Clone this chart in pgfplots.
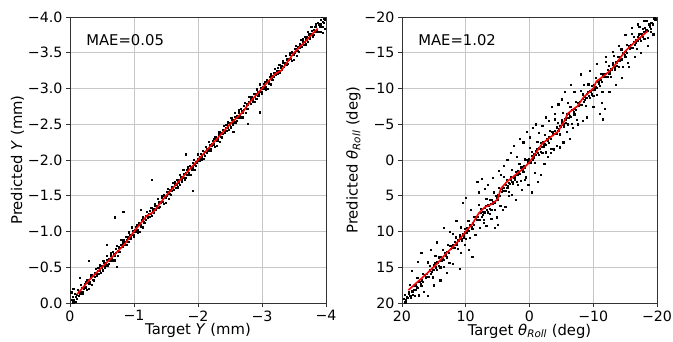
\documentclass[border=0pt]{standalone}
\usepackage{fontspec}
\setmainfont{DejaVu Sans}
\usepackage{pgfplots}
\usepackage{pgfplotstable}
\pgfplotsset{compat=1.18}

\pgfplotstableread{
x y
-0.02 0.01
-0.03 -0.05
-0.04 -0.09
-0.05 -0.01
-0.06 -0.05
-0.07 -0.13
-0.08 -0.02
-0.09 -0.09
-0.10 -0.12
-0.11 -0.06
-0.12 -0.19
-0.13 -0.16
-0.14 -0.10
-0.15 -0.13
-0.16 -0.16
-0.17 -0.26
-0.18 -0.21
-0.19 -0.13
-0.20 -0.15
-0.21 -0.22
-0.22 -0.20
-0.23 -0.27
-0.24 -0.30
-0.25 -0.22
-0.26 -0.19
-0.27 -0.32
-0.28 -0.29
-0.29 -0.20
-0.30 -0.27
-0.31 -0.30
-0.32 -0.36
-0.33 -0.40
-0.34 -0.26
-0.35 -0.33
-0.36 -0.38
-0.37 -0.32
-0.38 -0.37
-0.39 -0.42
-0.40 -0.48
-0.41 -0.41
-0.42 -0.39
-0.43 -0.45
-0.44 -0.49
-0.45 -0.41
-0.46 -0.45
-0.47 -0.53
-0.48 -0.42
-0.49 -0.49
-0.50 -0.52
-0.51 -0.46
-0.52 -0.59
-0.53 -0.56
-0.54 -0.50
-0.55 -0.53
-0.56 -0.56
-0.57 -0.66
-0.58 -0.61
-0.59 -0.53
-0.60 -0.55
-0.61 -0.62
-0.62 -0.60
-0.63 -0.67
-0.64 -0.70
-0.65 -0.62
-0.66 -0.59
-0.67 -0.72
-0.68 -0.69
-0.69 -0.60
-0.70 -0.67
-0.71 -0.70
-0.72 -0.76
-0.73 -0.80
-0.74 -0.66
-0.75 -0.73
-0.76 -0.78
-0.77 -0.72
-0.78 -0.77
-0.79 -0.82
-0.80 -0.88
-0.81 -0.81
-0.82 -0.79
-0.83 -0.85
-0.84 -0.89
-0.85 -0.81
-0.86 -0.85
-0.87 -0.93
-0.88 -0.82
-0.89 -0.89
-0.90 -0.92
-0.91 -0.86
-0.92 -0.99
-0.93 -0.96
-0.94 -0.90
-0.95 -0.93
-0.96 -0.96
-0.97 -1.06
-0.98 -1.01
-0.99 -0.93
-1.00 -0.95
-1.01 -1.02
-1.02 -1.00
-1.03 -1.07
-1.04 -1.10
-1.05 -1.02
-1.06 -0.99
-1.07 -1.12
-1.08 -1.09
-1.09 -1.00
-1.10 -1.07
-1.11 -1.10
-1.12 -1.16
-1.13 -1.20
-1.14 -1.06
-1.15 -1.13
-1.16 -1.18
-1.17 -1.12
-1.18 -1.17
-1.19 -1.22
-1.20 -1.28
-1.21 -1.21
-1.22 -1.19
-1.23 -1.25
-1.24 -1.29
-1.25 -1.21
-1.26 -1.25
-1.27 -1.33
-1.28 -1.22
-1.29 -1.29
-1.30 -1.32
-1.31 -1.26
-1.32 -1.39
-1.33 -1.36
-1.34 -1.30
-1.35 -1.33
-1.36 -1.36
-1.37 -1.46
-1.38 -1.41
-1.39 -1.33
-1.40 -1.35
-1.41 -1.42
-1.42 -1.40
-1.43 -1.47
-1.44 -1.50
-1.45 -1.42
-1.46 -1.39
-1.47 -1.52
-1.48 -1.49
-1.49 -1.40
-1.50 -1.47
-1.51 -1.50
-1.52 -1.56
-1.53 -1.60
-1.54 -1.46
-1.55 -1.53
-1.56 -1.58
-1.57 -1.52
-1.58 -1.57
-1.59 -1.62
-1.60 -1.68
-1.61 -1.61
-1.62 -1.59
-1.63 -1.65
-1.64 -1.69
-1.65 -1.61
-1.66 -1.65
-1.67 -1.73
-1.68 -1.62
-1.69 -1.69
-1.70 -1.72
-1.71 -1.66
-1.72 -1.79
-1.73 -1.76
-1.74 -1.70
-1.75 -1.73
-1.76 -1.76
-1.77 -1.86
-1.78 -1.81
-1.79 -1.73
-1.80 -1.75
-1.81 -1.82
-1.82 -1.80
-1.83 -1.87
-1.84 -1.90
-1.85 -1.82
-1.86 -1.79
-1.87 -1.92
-1.88 -1.89
-1.89 -1.80
-1.90 -1.87
-1.91 -1.90
-1.92 -1.96
-1.93 -2.00
-1.94 -1.86
-1.95 -1.93
-1.96 -1.98
-1.97 -1.92
-1.98 -1.97
-1.99 -2.02
-2.00 -2.08
-2.01 -2.01
-2.02 -1.99
-2.03 -2.05
-2.04 -2.09
-2.05 -2.01
-2.06 -2.05
-2.07 -2.13
-2.08 -2.02
-2.09 -2.09
-2.10 -2.12
-2.11 -2.06
-2.12 -2.19
-2.13 -2.16
-2.14 -2.10
-2.15 -2.13
-2.16 -2.16
-2.17 -2.26
-2.18 -2.21
-2.19 -2.13
-2.20 -2.15
-2.21 -2.22
-2.22 -2.20
-2.23 -2.27
-2.24 -2.30
-2.25 -2.22
-2.26 -2.19
-2.27 -2.32
-2.28 -2.29
-2.29 -2.20
-2.30 -2.27
-2.31 -2.30
-2.32 -2.36
-2.33 -2.40
-2.34 -2.26
-2.35 -2.33
-2.36 -2.38
-2.37 -2.32
-2.38 -2.37
-2.39 -2.42
-2.40 -2.48
-2.41 -2.41
-2.42 -2.39
-2.43 -2.45
-2.44 -2.49
-2.45 -2.41
-2.46 -2.45
-2.47 -2.53
-2.48 -2.42
-2.49 -2.49
-2.50 -2.52
-2.51 -2.46
-2.52 -2.59
-2.53 -2.56
-2.54 -2.50
-2.55 -2.53
-2.56 -2.56
-2.57 -2.66
-2.58 -2.61
-2.59 -2.53
-2.60 -2.55
-2.61 -2.62
-2.62 -2.60
-2.63 -2.67
-2.64 -2.70
-2.65 -2.62
-2.66 -2.59
-2.67 -2.72
-2.68 -2.69
-2.69 -2.60
-2.70 -2.67
-2.71 -2.70
-2.72 -2.76
-2.73 -2.80
-2.74 -2.66
-2.75 -2.73
-2.76 -2.78
-2.77 -2.72
-2.78 -2.77
-2.79 -2.82
-2.80 -2.88
-2.81 -2.81
-2.82 -2.79
-2.83 -2.85
-2.84 -2.89
-2.85 -2.81
-2.86 -2.85
-2.87 -2.93
-2.88 -2.82
-2.89 -2.89
-2.90 -2.92
-2.91 -2.86
-2.92 -2.99
-2.93 -2.96
-2.94 -2.90
-2.95 -2.93
-2.96 -2.96
-2.97 -3.06
-2.98 -3.01
-2.99 -2.93
-3.00 -2.95
-3.01 -3.02
-3.02 -3.00
-3.03 -3.07
-3.04 -3.10
-3.05 -3.02
-3.06 -2.99
-3.07 -3.12
-3.08 -3.09
-3.09 -3.00
-3.10 -3.07
-3.11 -3.10
-3.12 -3.16
-3.13 -3.20
-3.14 -3.06
-3.15 -3.13
-3.16 -3.18
-3.17 -3.12
-3.18 -3.17
-3.19 -3.22
-3.20 -3.28
-3.21 -3.21
-3.22 -3.19
-3.23 -3.25
-3.24 -3.29
-3.25 -3.21
-3.26 -3.25
-3.27 -3.33
-3.28 -3.22
-3.29 -3.29
-3.30 -3.32
-3.31 -3.26
-3.32 -3.39
-3.33 -3.36
-3.34 -3.30
-3.35 -3.33
-3.36 -3.36
-3.37 -3.46
-3.38 -3.41
-3.39 -3.33
-3.40 -3.35
-3.41 -3.42
-3.42 -3.40
-3.43 -3.47
-3.44 -3.50
-3.45 -3.42
-3.46 -3.39
-3.47 -3.52
-3.48 -3.49
-3.49 -3.40
-3.50 -3.47
-3.51 -3.50
-3.52 -3.56
-3.53 -3.60
-3.54 -3.46
-3.55 -3.53
-3.56 -3.58
-3.57 -3.52
-3.58 -3.57
-3.59 -3.62
-3.60 -3.68
-3.61 -3.61
-3.62 -3.59
-3.63 -3.65
-3.64 -3.69
-3.65 -3.61
-3.66 -3.65
-3.67 -3.73
-3.68 -3.62
-3.69 -3.69
-3.70 -3.72
-3.71 -3.66
-3.72 -3.79
-3.73 -3.76
-3.74 -3.70
-3.75 -3.73
-3.76 -3.76
-3.77 -3.86
-3.78 -3.81
-3.79 -3.73
-3.80 -3.75
-3.81 -3.82
-3.82 -3.80
-3.83 -3.87
-3.84 -3.90
-3.85 -3.82
-3.86 -3.79
-3.87 -3.92
-3.88 -3.89
-3.89 -3.80
-3.90 -3.87
-3.91 -3.90
-3.92 -3.96
-3.93 -4.00
-3.94 -3.86
-3.95 -3.93
-3.96 -3.98
-3.97 -3.92
-3.98 -3.97
-3.99 -4.02
-4.00 -4.08
-4.01 -4.01
-0.70 -1.20
-0.83 -1.28
-1.28 -1.73
-1.92 -1.57
-1.81 -2.08
-2.96 -2.67
-2.78 -2.51
-0.57 -0.82
-0.29 -0.59
-0.73 -0.51
-0.15 -0.35
-3.95 -3.78
-3.98 -3.84
-3.92 -3.80
-0.05 -0.20
-0.02 -0.15
-1.10 -1.30
-2.55 -2.40
}\leftdata

\pgfplotstableread{
x y
-0.11 -0.12
-0.30 -0.32
-0.50 -0.50
-0.70 -0.68
-0.85 -0.82
-1.00 -1.00
-1.20 -1.22
-1.30 -1.27
-1.50 -1.50
-1.70 -1.70
-1.90 -1.90
-2.10 -2.10
-2.30 -2.30
-2.50 -2.50
-2.70 -2.67
-2.80 -2.80
-3.00 -3.00
-3.20 -3.20
-3.30 -3.25
-3.50 -3.50
-3.70 -3.68
-3.87 -3.84
}\leftline

\pgfplotstableread{
x y
19.8 20.3
19.7 19.4
19.6 18.8
19.5 19.9
19.4 19.6
19.3 19.2
19.2 20.4
19.1 19.3
19.0 18.7
18.9 18.4
18.8 17.4
18.7 19.0
18.6 19.3
18.5 18.3
18.4 18.4
18.3 18.8
18.2 17.6
18.1 18.1
18.0 19.0
17.9 17.5
17.8 18.1
17.7 17.8
17.6 16.5
17.5 17.9
17.4 18.9
17.3 17.0
17.2 17.0
17.1 17.3
17.0 17.6
16.9 16.8
16.8 15.9
16.7 17.0
16.6 18.4
16.5 16.0
16.4 16.0
16.3 16.4
16.2 16.3
16.1 15.9
16.0 14.3
15.9 16.3
15.8 16.3
15.7 15.4
15.6 14.8
15.5 15.9
15.4 15.6
15.3 15.2
15.2 16.4
15.1 15.3
15.0 14.7
14.9 14.4
14.8 13.4
14.7 15.0
14.6 15.3
14.5 14.3
14.4 14.4
14.3 14.8
14.2 13.6
14.1 14.1
14.0 15.0
13.9 13.5
13.8 14.1
13.7 13.8
13.6 12.5
13.5 13.9
13.4 14.9
13.3 13.0
13.2 13.0
13.1 13.3
13.0 13.6
12.9 12.8
12.8 11.9
12.7 13.0
12.6 14.4
12.5 12.0
12.4 12.0
12.3 12.4
12.2 12.3
12.1 11.9
12.0 10.3
11.9 12.3
11.8 12.3
11.7 11.4
11.6 10.8
11.5 11.9
11.4 11.6
11.3 11.2
11.2 12.4
11.1 11.3
11.0 10.7
10.9 10.4
10.8 9.4
10.7 11.0
10.6 11.3
10.5 10.3
10.4 10.4
10.3 10.8
10.2 9.6
10.1 10.1
10.0 11.0
9.9 9.5
9.8 10.1
9.7 9.8
9.6 8.5
9.5 9.9
9.4 10.9
9.3 9.0
9.2 9.0
9.1 9.3
9.0 9.6
8.9 8.8
8.8 7.9
8.7 9.0
8.6 10.4
8.5 8.0
8.4 8.0
8.3 8.4
8.2 8.3
8.1 7.9
8.0 6.3
7.9 8.3
7.8 8.3
7.7 7.4
7.6 6.8
7.5 7.9
7.4 7.6
7.3 7.2
7.2 8.4
7.1 7.3
7.0 6.7
6.9 6.4
6.8 5.4
6.7 7.0
6.6 7.3
6.5 6.3
6.4 6.4
6.3 6.8
6.2 5.6
6.1 6.1
6.0 7.0
5.9 5.5
5.8 6.1
5.7 5.8
5.6 4.5
5.5 5.9
5.4 6.9
5.3 5.0
5.2 5.0
5.1 5.3
5.0 5.6
4.9 4.8
4.8 3.9
4.7 5.0
4.6 6.4
4.5 4.0
4.4 4.0
4.3 4.4
4.2 4.3
4.1 3.9
4.0 2.3
3.9 4.3
3.8 4.3
3.7 3.4
3.6 2.8
3.5 3.9
3.4 3.6
3.3 3.2
3.2 4.4
3.1 3.3
3.0 2.7
2.9 2.4
2.8 1.4
2.7 3.0
2.6 3.3
2.5 2.3
2.4 2.4
2.3 2.8
2.2 1.6
2.1 2.1
2.0 3.0
1.9 1.5
1.8 2.1
1.7 1.8
1.6 0.5
1.5 1.9
1.4 2.9
1.3 1.0
1.2 1.0
1.1 1.3
1.0 1.6
0.9 0.8
0.8 -0.1
0.7 1.0
0.6 2.4
0.5 0.0
0.4 0.0
0.3 0.4
0.2 0.3
0.1 -0.1
0.0 -1.7
-0.1 0.3
-0.2 0.3
-0.3 -0.6
-0.4 -1.2
-0.5 -0.1
-0.6 -0.4
-0.7 -0.8
-0.8 0.4
-0.9 -0.7
-1.0 -1.3
-1.1 -1.6
-1.2 -2.6
-1.3 -1.0
-1.4 -0.7
-1.5 -1.7
-1.6 -1.6
-1.7 -1.2
-1.8 -2.4
-1.9 -1.9
-2.0 -1.0
-2.1 -2.5
-2.2 -1.9
-2.3 -2.2
-2.4 -3.5
-2.5 -2.1
-2.6 -1.1
-2.7 -3.0
-2.8 -3.0
-2.9 -2.7
-3.0 -2.4
-3.1 -3.2
-3.2 -4.1
-3.3 -3.0
-3.4 -1.6
-3.5 -4.0
-3.6 -4.0
-3.7 -3.6
-3.8 -3.7
-3.9 -4.1
-4.0 -5.7
-4.1 -3.7
-4.2 -3.7
-4.3 -4.6
-4.4 -5.2
-4.5 -4.1
-4.6 -4.4
-4.7 -4.8
-4.8 -3.6
-4.9 -4.7
-5.0 -5.3
-5.1 -5.6
-5.2 -6.6
-5.3 -5.0
-5.4 -4.7
-5.5 -5.7
-5.6 -5.6
-5.7 -5.2
-5.8 -6.4
-5.9 -5.9
-6.0 -5.0
-6.1 -6.5
-6.2 -5.9
-6.3 -6.2
-6.4 -7.5
-6.5 -6.1
-6.6 -5.1
-6.7 -7.0
-6.8 -7.0
-6.9 -6.7
-7.0 -6.4
-7.1 -7.2
-7.2 -8.1
-7.3 -7.0
-7.4 -5.6
-7.5 -8.0
-7.6 -8.0
-7.7 -7.6
-7.8 -7.7
-7.9 -8.1
-8.0 -9.7
-8.1 -7.7
-8.2 -7.7
-8.3 -8.6
-8.4 -9.2
-8.5 -8.1
-8.6 -8.4
-8.7 -8.8
-8.8 -7.6
-8.9 -8.7
-9.0 -9.3
-9.1 -9.6
-9.2 -10.6
-9.3 -9.0
-9.4 -8.7
-9.5 -9.7
-9.6 -9.6
-9.7 -9.2
-9.8 -10.4
-9.9 -9.9
-10.0 -9.0
-10.1 -10.5
-10.2 -9.9
-10.3 -10.2
-10.4 -11.5
-10.5 -10.1
-10.6 -9.1
-10.7 -11.0
-10.8 -11.0
-10.9 -10.7
-11.0 -10.4
-11.1 -11.2
-11.2 -12.1
-11.3 -11.0
-11.4 -9.6
-11.5 -12.0
-11.6 -12.0
-11.7 -11.6
-11.8 -11.7
-11.9 -12.1
-12.0 -13.7
-12.1 -11.7
-12.2 -11.7
-12.3 -12.6
-12.4 -13.2
-12.5 -12.1
-12.6 -12.4
-12.7 -12.8
-12.8 -11.6
-12.9 -12.7
-13.0 -13.3
-13.1 -13.6
-13.2 -14.6
-13.3 -13.0
-13.4 -12.7
-13.5 -13.7
-13.6 -13.6
-13.7 -13.2
-13.8 -14.4
-13.9 -13.9
-14.0 -13.0
-14.1 -14.5
-14.2 -13.9
-14.3 -14.2
-14.4 -15.5
-14.5 -14.1
-14.6 -13.1
-14.7 -15.0
-14.8 -15.0
-14.9 -14.7
-15.0 -14.4
-15.1 -15.2
-15.2 -16.1
-15.3 -15.0
-15.4 -13.6
-15.5 -16.0
-15.6 -16.0
-15.7 -15.6
-15.8 -15.7
-15.9 -16.1
-16.0 -17.7
-16.1 -15.7
-16.2 -15.7
-16.3 -16.6
-16.4 -17.2
-16.5 -16.1
-16.6 -16.4
-16.7 -16.8
-16.8 -15.6
-16.9 -16.7
-17.0 -17.3
-17.1 -17.6
-17.2 -18.6
-17.3 -17.0
-17.4 -16.7
-17.5 -17.7
-17.6 -17.6
-17.7 -17.2
-17.8 -18.4
-17.9 -17.9
-18.0 -17.0
-18.1 -18.5
-18.2 -17.9
-18.3 -18.2
-18.4 -19.5
-18.5 -18.1
-18.6 -17.1
-18.7 -19.0
-18.8 -19.0
-18.9 -18.7
-19.0 -18.4
-19.1 -19.2
-19.2 -20.1
-19.3 -19.0
-19.4 -17.6
-19.5 -20.0
-19.6 -20.0
-19.7 -19.6
-19.8 -19.7
-19.9 -20.1
-20.0 -21.7
-20.1 -19.7
18.5 15.5
17.5 14.2
17.0 13.0
16.0 19.0
15.5 12.5
15.0 17.5
14.5 11.5
14.0 16.8
13.5 9.5
13.0 15.8
12.5 10.0
12.0 14.5
11.5 8.5
11.0 15.2
10.8 13.0
10.5 6.0
10.2 11.8
10.0 5.3
9.5 12.5
9.2 7.0
9.0 13.5
8.5 10.5
8.2 3.0
8.0 4.5
7.8 9.5
7.5 2.6
7.2 8.8
7.0 4.0
6.8 9.2
6.5 3.5
6.3 7.5
6.0 8.2
5.8 2.5
5.5 9.5
5.2 8.0
5.0 9.0
4.8 1.5
4.5 2.0
4.2 7.0
4.0 0.8
3.8 6.5
3.5 0.0
3.2 5.0
3.0 -1.0
2.8 4.8
2.5 -2.0
2.2 5.5
2.0 -0.5
1.8 3.5
1.5 -3.0
1.2 4.2
1.0 -2.5
0.8 2.8
0.5 -4.0
0.2 3.5
0.0 -3.2
-0.3 4.5
-0.5 -4.5
-0.8 1.8
-1.0 -5.0
-1.3 3.0
-1.5 -3.8
-1.8 2.0
-2.0 -4.8
-2.3 0.5
-2.5 -6.0
-2.8 -0.5
-3.0 -5.5
-3.3 -1.0
-3.5 -7.5
-3.8 -1.5
-4.0 -6.5
-4.3 -2.0
-4.5 -7.8
-4.8 -1.8
-5.0 -8.5
-5.3 -2.5
-5.5 -9.5
-5.8 -4.0
-6.0 -8.0
-6.3 -3.0
-6.5 -10.5
-6.8 -4.5
-7.0 -9.5
-7.5 -5.0
-8.0 -12.0
-8.3 -5.5
-8.5 -10.5
-9.0 -6.0
-9.5 -12.5
-10.0 -7.5
-10.5 -13.5
-11.0 -6.5
-11.3 -8.0
-11.5 -5.7
-11.8 -7.2
-12.0 -14.5
-12.5 -9.5
-13.0 -15.2
-13.5 -10.5
-14.0 -16.0
-14.5 -11.5
-15.0 -17.5
-15.5 -13.0
-16.0 -18.5
-16.5 -14.5
-17.0 -19.0
-17.5 -15.0
-18.0 -19.5
-18.5 -16.0
-19.0 -18.0
-19.5 -19.8
}\rightdata

\pgfplotstableread{
x y
19.0 18.2
17.5 17.0
16.0 15.8
14.5 14.5
13.0 13.0
11.5 11.7
10.0 10.0
9.0 9.0
8.0 7.5
7.0 6.6
6.0 6.2
5.0 5.5
4.5 4.0
3.5 3.0
2.5 2.3
1.0 1.2
0.0 0.3
-1.0 -1.0
-2.0 -2.3
-3.0 -3.0
-4.5 -4.0
-5.5 -5.5
-6.0 -6.5
-7.0 -7.2
-7.5 -7.5
-8.5 -8.8
-10.0 -10.0
-10.5 -11.0
-12.0 -12.0
-13.0 -12.8
-14.0 -14.0
-15.0 -15.2
-16.5 -16.5
-18.5 -18.0
}\rightline

\pgfplotsset{
  panel/.style={
    scale only axis, width=256pt, height=286pt,
    x dir=reverse, y dir=reverse,
    clip marker paths=true,
    axis line style={black!80, line width=0.8pt},
    grid=major, grid style={black!22, line width=0.7pt},
    tick align=outside, major tick length=4pt,
    tick style={black!80, line width=0.8pt},
    xtick pos=bottom, ytick pos=left,
    xticklabel style={font=\fontsize{14.2}{16}\selectfont},
    yticklabel style={font=\fontsize{14.2}{16}\selectfont},
    xlabel style={font=\fontsize{14.8}{17}\selectfont, yshift=4.5pt},
    ylabel style={font=\fontsize{14.8}{17}\selectfont, yshift=-3pt},
  },
  dots/.style={only marks, mark=square*, mark size=0.6pt, black,
    mark options={draw=none, fill=black}},
  redline/.style={red, line width=1.6pt, no marks},
}

\begin{document}
\begin{tikzpicture}
\path[use as bounding box] (-70pt,-38pt) rectangle (603pt,303pt);
\begin{axis}[panel, at={(0pt,0pt)}, anchor=south west,
  xmin=-4, xmax=0, ymin=-4, ymax=0,
  xtick={0,-1,-2,-3,-4}, xticklabels={0,−1,−2,−3,−4},
  ytick={0,-0.5,-1,-1.5,-2,-2.5,-3,-3.5,-4},
  yticklabels={0.0,−0.5,−1.0,−1.5,−2.0,−2.5,−3.0,−3.5,−4.0},
  xlabel={Target \textit{Y} (mm)}, ylabel={Predicted \textit{Y} (mm)}]
\addplot[dots] table[x=x,y=y] {\leftdata};
\addplot[redline] table[x=x,y=y] {\leftline};
\node[anchor=west, font=\fontsize{14.8}{17}\selectfont] at (rel axis cs:0.05,0.918) {MAE=0.05};
\end{axis}
\begin{axis}[panel, at={(332pt,0pt)}, anchor=south west, width=255pt,
  xmin=-20, xmax=20, ymin=-20, ymax=20,
  xtick={20,10,0,-10,-20}, xticklabels={20,10,0,−10,−20},
  ytick={20,15,10,5,0,-5,-10,-15,-20},
  yticklabels={20,15,10,5,0,−5,−10,−15,−20},
  xlabel={Target \textit{θ}\textsubscript{\textit{Roll}} (deg)},
  ylabel={Predicted \textit{θ}\textsubscript{\textit{Roll}} (deg)}]
\addplot[dots] table[x=x,y=y] {\rightdata};
\addplot[redline] table[x=x,y=y] {\rightline};
\node[anchor=west, font=\fontsize{14.8}{17}\selectfont] at (rel axis cs:0.05,0.918) {MAE=1.02};
\end{axis}
\end{tikzpicture}
\end{document}
